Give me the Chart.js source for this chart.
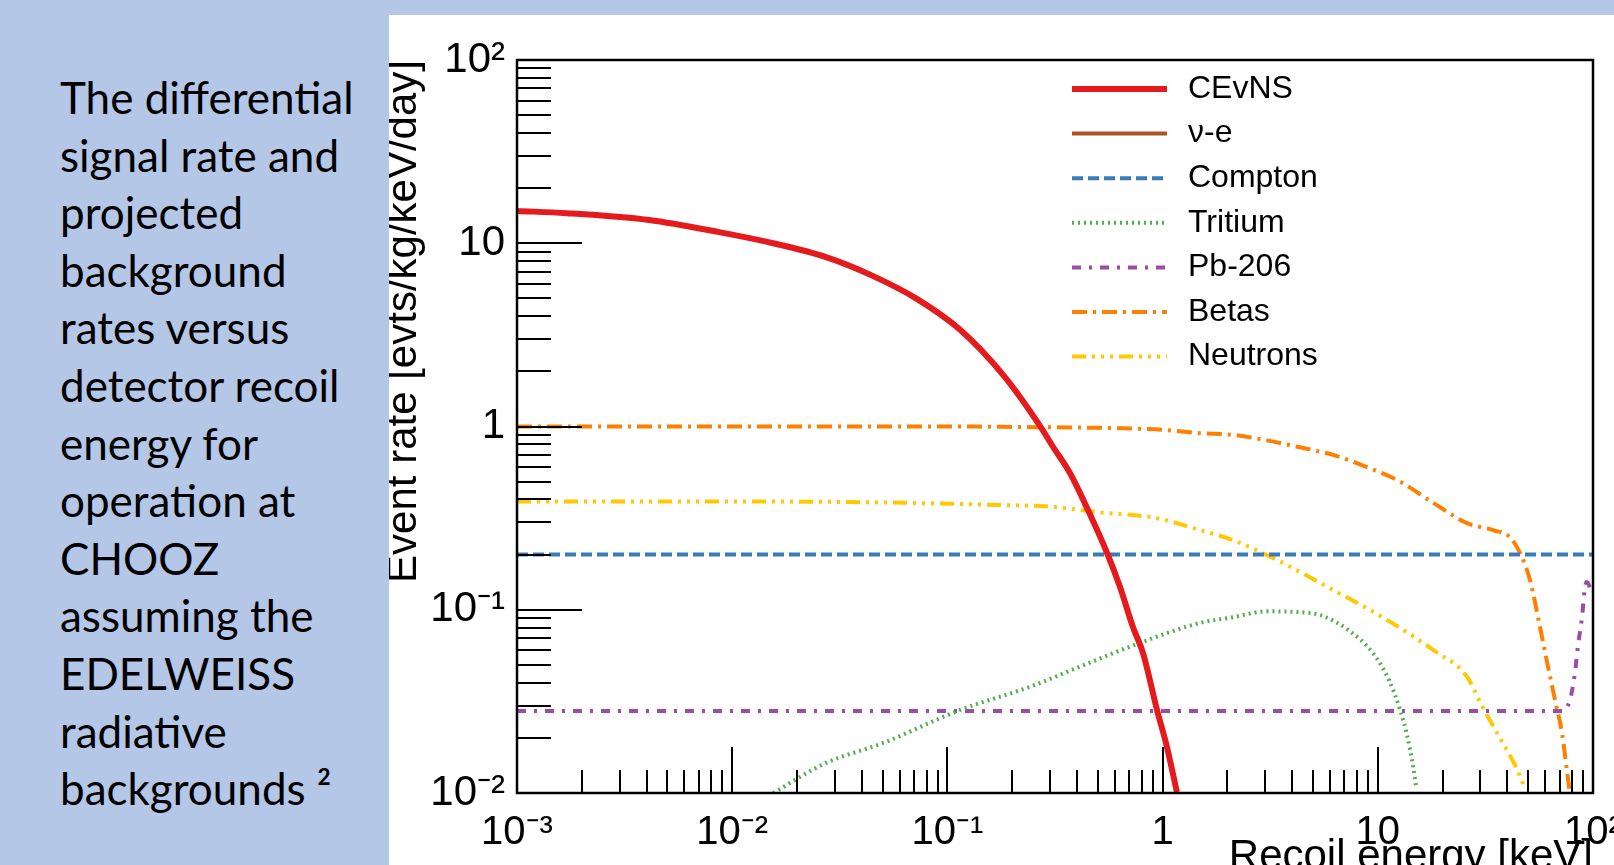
<!DOCTYPE html>
<html>
<head>
<meta charset="utf-8">
<title>CEvNS signal and background rates</title>
<script src="https://cdn.jsdelivr.net/npm/chart.js@4.4.1/dist/chart.umd.min.js"></script>
<style>
  html, body { margin: 0; padding: 0; }
  body { width: 1614px; height: 865px; overflow: hidden; background: #b4c7e7; position: relative; }
  #caption { position: absolute; left: 60px; top: 69px; font-family: Lato, "Noto Sans", sans-serif;
             font-size: 44px; line-height: 57.6px; color: #000; white-space: nowrap; }
  #panel { position: absolute; left: 389px; top: 15px; width: 1300px; height: 900px; background: #fff; }
</style>
</head>
<body>
<div id="caption">The differential<br>signal rate and<br>projected<br>background<br>rates versus<br>detector recoil<br>energy for<br>operation at<br>CHOOZ<br>assuming the<br>EDELWEISS<br>radiative<br>backgrounds ²</div>
<div id="panel"><canvas id="rateChart" width="1300" height="900"></canvas></div>
<script>
// recoil energy [keV] / event rate [evts/kg/keV/day]
const cevnsEnergy = [0.001, 0.0017, 0.0041, 0.0087, 0.0155, 0.0273, 0.0442, 0.0715, 0.1146, 0.185, 0.272, 0.31, 0.371, 0.45, 0.552, 0.634, 0.728, 0.811, 0.942, 1.048, 1.166];
const cevnsRate   = [15.0, 14.6, 13.4, 11.5, 10.0, 8.4, 6.7, 5.0, 3.37, 1.86, 0.99, 0.773, 0.557, 0.35, 0.204, 0.133, 0.0805, 0.058, 0.0284, 0.0178, 0.0101];

const nueEnergy = [];
const nueRate   = [];

const comptonEnergy = [0.001, 100];
const comptonRate   = [0.2, 0.2];

const tritiumEnergy = [0.0155, 0.0273, 0.05, 0.1146, 0.242, 0.45, 0.787, 1.49, 2.12, 3.05, 4.35, 5.4, 7.3, 9.5, 11.3, 12.7, 13.6, 14.6, 15.1];
const tritiumRate   = [0.01, 0.0146, 0.0187, 0.0284, 0.038, 0.051, 0.066, 0.0847, 0.091, 0.098, 0.097, 0.0935, 0.0775, 0.058, 0.041, 0.0284, 0.0212, 0.0139, 0.0106];

const pbEnergy = [0.001, 72, 78, 82.4, 85, 88.9, 91.8, 93.7, 98.8, 100];
const pbRate   = [0.028, 0.028, 0.032, 0.045, 0.0627, 0.091, 0.133, 0.1416, 0.125, 0.124];

const betaEnergy = [0.001, 0.01, 0.1, 0.3, 0.6, 1.0, 1.49, 2.12, 3.05, 4.35, 6.2, 8.9, 12.7, 18.1, 26, 34.3, 41.1, 45.8, 51, 56.7, 61.8, 66.6, 71.8, 76.6, 78.5];
const betaRate   = [1.0, 1.0, 1.0, 0.99, 0.98, 0.96, 0.92, 0.90, 0.84, 0.77, 0.70, 0.60, 0.50, 0.383, 0.297, 0.272, 0.249, 0.204, 0.145, 0.0805, 0.0488, 0.0322, 0.0212, 0.0118, 0.0095];

const neutronEnergy = [0.001, 0.01, 0.05, 0.175, 0.3, 0.5, 0.94, 1.49, 2.12, 3.05, 4.35, 6.2, 8.9, 12.7, 18.1, 26, 30.7, 36.7, 42.9, 48];
const neutronRate   = [0.39, 0.39, 0.385, 0.373, 0.365, 0.341, 0.316, 0.272, 0.240, 0.199, 0.161, 0.128, 0.102, 0.0795, 0.0603, 0.043, 0.0294, 0.0202, 0.0146, 0.0108];

const xDecades = [1e-3, 1e-2, 1e-1, 1, 10, 100];
const xTickLabels = ['10⁻³', '10⁻²', '10⁻¹', '1', '10', '10²'];
const yDecades = [1e-2, 1e-1, 1, 10, 100];
const yTickLabels = ['10⁻²', '10⁻¹', '1', '10', '10²'];

function pairs(xs, ys) {
    return xs.map((x, i) => ({ x: x, y: ys[i] }));
}

function withMinors(decades) {
    const out = [];
    decades.forEach((d, i) => {
        out.push(d);
        if (i < decades.length - 1) {
            for (let m = 2; m <= 9; m++) out.push(+(d * m).toPrecision(3));
        }
    });
    return out;
}

function decadeIndex(decades, v) {
    return decades.findIndex(d => Math.abs(d - v) / d < 1e-6);
}

function series(label, xs, ys, color, width, dash) {
    return {
        label: label,
        data: pairs(xs, ys),
        borderColor: color,
        borderWidth: width,
        borderDash: dash,
        borderCapStyle: 'butt',
        pointRadius: 0,
        fill: false,
        cubicInterpolationMode: 'monotone'
    };
}

Chart.defaults.font.family = '"Liberation Sans", Arial, sans-serif';
Chart.defaults.color = '#000';

// ROOT style: inward ticks, closed frame, legend inside the pad
const rootFrame = {
    id: 'rootFrame',
    afterDraw(chart) {
        const ctx = chart.ctx;
        const a = chart.chartArea;
        const x = chart.scales.x;
        const y = chart.scales.y;
        ctx.save();
        ctx.strokeStyle = '#000';
        ctx.lineWidth = 2;
        ctx.beginPath();
        x.ticks.forEach(t => {
            const px = Math.round(x.getPixelForValue(t.value));
            const len = decadeIndex(xDecades, t.value) >= 0 ? 46 : 23;
            ctx.moveTo(px, a.bottom);
            ctx.lineTo(px, a.bottom - len);
        });
        y.ticks.forEach(t => {
            const py = Math.round(y.getPixelForValue(t.value));
            const len = decadeIndex(yDecades, t.value) >= 0 ? 65 : 34;
            ctx.moveTo(a.left, py);
            ctx.lineTo(a.left + len, py);
        });
        ctx.stroke();
        ctx.lineWidth = 2.5;
        ctx.strokeRect(a.left, a.top, a.right - a.left, a.bottom - a.top);

        // legend
        ctx.font = '32px "Liberation Sans", Arial, sans-serif';
        ctx.fillStyle = '#000';
        ctx.textBaseline = 'middle';
        chart.data.datasets.forEach((ds, i) => {
            const ly = a.top + 29 + i * 44.6;
            ctx.beginPath();
            ctx.setLineDash(ds.borderDash || []);
            ctx.lineCap = 'butt';
            ctx.strokeStyle = ds.borderColor;
            ctx.lineWidth = ds.borderWidth;
            ctx.moveTo(a.left + 555, ly);
            ctx.lineTo(a.left + 650, ly);
            ctx.stroke();
            ctx.setLineDash([]);
            ctx.fillText(ds.label, a.left + 671, ly);
        });
        ctx.restore();
    }
};

const ctx = document.getElementById('rateChart').getContext('2d');

const chart = new Chart(ctx, {
    type: 'line',
    data: {
        datasets: [
            series('CEvNS', cevnsEnergy, cevnsRate, '#e41a1c', 6, []),
            series('ν-e', nueEnergy, nueRate, '#a65628', 4, []),
            series('Compton', comptonEnergy, comptonRate, '#377eb8', 4, [11, 5]),
            series('Tritium', tritiumEnergy, tritiumRate, '#4daf4a', 4, [2, 4]),
            series('Pb-206', pbEnergy, pbRate, '#984ea3', 4, [9, 8, 3, 8]),
            series('Betas', betaEnergy, betaRate, '#ff7f00', 4, [15, 6, 3, 6]),
            series('Neutrons', neutronEnergy, neutronRate, '#ffc800', 4, [14, 6, 3, 6, 3, 6, 3, 6])
        ]
    },
    options: {
        responsive: false,
        animation: false,
        layout: { padding: { left: 0, top: 45, right: 96, bottom: 0 } },
        plugins: { legend: { display: false }, tooltip: { enabled: false } },
        scales: {
            x: {
                type: 'logarithmic',
                position: 'bottom',
                min: 1e-3,
                max: 100,
                grid: { display: false, drawTicks: false },
                border: { display: false },
                afterBuildTicks: scale => { scale.ticks = withMinors(xDecades).map(v => ({ value: v })); },
                afterFit: scale => { scale.height = 122; },
                ticks: {
                    autoSkip: false,
                    maxRotation: 0,
                    padding: 20,
                    font: { size: 40, lineHeight: 1 },
                    callback: v => { const i = decadeIndex(xDecades, v); return i >= 0 ? xTickLabels[i] : ''; }
                },
                title: {
                    display: true,
                    text: 'Recoil energy [keV]',
                    align: 'end',
                    font: { size: 42 },
                    padding: { top: 0, bottom: 32 }
                }
            },
            y: {
                type: 'logarithmic',
                position: 'left',
                min: 1e-2,
                max: 100,
                grid: { display: false, drawTicks: false },
                border: { display: false },
                afterBuildTicks: scale => { scale.ticks = withMinors(yDecades).map(v => ({ value: v })); },
                afterFit: scale => { scale.width = 128; },
                ticks: {
                    autoSkip: false,
                    padding: 12,
                    font: { size: 42, lineHeight: 1 },
                    callback: v => { const i = decadeIndex(yDecades, v); return i >= 0 ? yTickLabels[i] : ''; }
                },
                title: {
                    display: true,
                    text: 'Event rate [evts/kg/keV/day]',
                    align: 'end',
                    font: { size: 42, lineHeight: 1 },
                    padding: { top: -6, bottom: 0 }
                }
            }
        }
    },
    plugins: [rootFrame]
});
</script>
</body>
</html>
